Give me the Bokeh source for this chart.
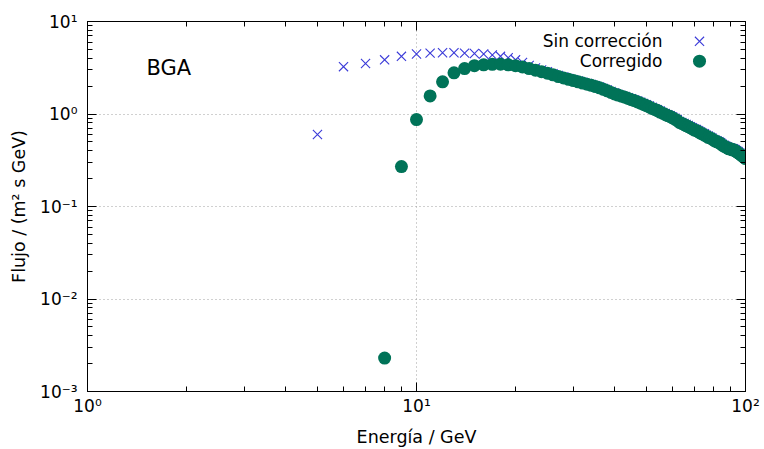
import math
from bokeh.plotting import figure
from bokeh.models import FixedTicker, LogAxis, Label
from bokeh.embed import file_html
from bokeh.resources import INLINE

# ---------------- data ----------------
energia_sin = [5, 6, 7, 8, 9, 10, 11, 12, 13, 14, 15, 16, 17, 18, 19, 20,
               21, 22, 23, 24, 25, 26, 27, 28, 29, 30, 31, 32, 33, 34, 35, 36,
               37, 38, 39, 40, 41, 42, 43, 44, 45, 46, 47, 48, 49, 50, 51, 52,
               53, 54, 55, 56, 57, 58, 59, 60, 61, 62, 63, 64, 65, 66, 67, 68,
               69, 70, 71, 72, 73, 74, 75, 76, 77, 78, 79, 80, 81, 82, 83, 84,
               85, 86, 87, 88, 89, 90, 91, 92, 93, 94, 95, 96, 97, 98, 99, 100]
flujo_sin = [0.60, 3.25, 3.52, 3.85, 4.20, 4.45, 4.55, 4.60, 4.60, 4.55, 4.50, 4.45,
             4.35, 4.20, 4.05, 3.85, 3.60, 3.35, 3.15, 3.00, 2.86, 2.73, 2.61, 2.51,
             2.42, 2.35, 2.27, 2.20, 2.14, 2.08, 2.02, 1.96, 1.89, 1.82, 1.75, 1.69,
             1.63, 1.59, 1.55, 1.50, 1.46, 1.42, 1.38, 1.34, 1.30, 1.26, 1.22, 1.18,
             1.14, 1.11, 1.08, 1.04, 1.01, 0.98, 0.96, 0.93, 0.90, 0.87, 0.83, 0.81,
             0.79, 0.77, 0.75, 0.73, 0.71, 0.69, 0.68, 0.66, 0.64, 0.62, 0.61, 0.59,
             0.58, 0.56, 0.55, 0.53, 0.52, 0.51, 0.50, 0.49, 0.47, 0.46, 0.45, 0.44,
             0.43, 0.43, 0.42, 0.42, 0.41, 0.40, 0.39, 0.38, 0.37, 0.36, 0.35, 0.34]

energia_corr = [8, 9, 10, 11, 12, 13, 14, 15, 16, 17, 18, 19, 20,
                21, 22, 23, 24, 25, 26, 27, 28, 29, 30, 31, 32, 33, 34, 35, 36,
                37, 38, 39, 40, 41, 42, 43, 44, 45, 46, 47, 48, 49, 50, 51, 52,
                53, 54, 55, 56, 57, 58, 59, 60, 61, 62, 63, 64, 65, 66, 67, 68,
                69, 70, 71, 72, 73, 74, 75, 76, 77, 78, 79, 80, 81, 82, 83, 84,
                85, 86, 87, 88, 89, 90, 91, 92, 93, 94, 95, 96, 97, 98, 99, 100]
flujo_corr = [0.0023, 0.27, 0.87, 1.57, 2.23, 2.79, 3.10, 3.33, 3.40, 3.44, 3.45, 3.40,
              3.33, 3.22, 3.10, 2.98, 2.87, 2.76, 2.65, 2.54, 2.45, 2.37, 2.30, 2.23,
              2.16, 2.10, 2.04, 1.98, 1.92, 1.85, 1.78, 1.71, 1.65, 1.60, 1.56, 1.52,
              1.47, 1.43, 1.39, 1.35, 1.31, 1.27, 1.23, 1.19, 1.15, 1.12, 1.09, 1.05,
              1.02, 0.99, 0.96, 0.94, 0.91, 0.88, 0.85, 0.81, 0.79, 0.77, 0.75, 0.73,
              0.71, 0.69, 0.67, 0.66, 0.64, 0.62, 0.61, 0.59, 0.58, 0.56, 0.55, 0.54,
              0.52, 0.51, 0.50, 0.49, 0.48, 0.46, 0.45, 0.44, 0.43, 0.42, 0.42, 0.41,
              0.41, 0.40, 0.39, 0.38, 0.37, 0.36, 0.35, 0.34, 0.33]

x_major = [1, 10, 100]
x_major_labels = ["10\u2070", "10\u00b9", "10\u00b2"]
y_major = [0.001, 0.01, 0.1, 1, 10]
y_major_labels = ["10\u207b\u00b3", "10\u207b\u00b2", "10\u207b\u00b9", "10\u2070", "10\u00b9"]
x_minor = [m * d for d in (1, 10) for m in range(2, 10)]
y_minor = [m * d for d in (0.001, 0.01, 0.1, 1) for m in range(2, 10)]

serie_sin = "Sin corrección"
serie_corr = "Corregido"
etiqueta = "BGA"

COL_SIN = "#3a3ad8"
COL_CORR = "#007358"
FONT = "DejaVu Sans"

W, H = 764, 449
L, R, T, B = 87, 19, 21, 55
X0, X1 = 1.0, 100.0
Y0, Y1 = 0.001, 10.0

p = figure(width=W, height=H, x_axis_type="log", y_axis_type="log",
           x_range=(X0, X1), y_range=(Y0, Y1),
           output_backend="svg", toolbar_location=None,
           min_border_left=L, min_border_right=R, min_border_top=T, min_border_bottom=B)
p.background_fill_color = "white"
p.border_fill_color = "white"
p.outline_line_color = "black"
p.outline_line_width = 1


def style_axis(ax, ticks, minor, labels, show_labels):
    ax.ticker = FixedTicker(ticks=ticks, minor_ticks=minor)
    ax.major_label_overrides = {t: l for t, l in zip(ticks, labels)}
    ax.axis_line_color = "black"
    ax.major_tick_line_color = "black"
    ax.minor_tick_line_color = "black"
    ax.major_tick_in = 9
    ax.major_tick_out = 0
    ax.minor_tick_in = 5
    ax.minor_tick_out = 0
    ax.major_label_text_font = FONT
    ax.major_label_text_font_size = "17px" if show_labels else "0px"
    ax.major_label_text_color = "black"
    if not show_labels:
        ax.major_label_standoff = 0


style_axis(p.xaxis[0], x_major, x_minor, x_major_labels, True)
style_axis(p.yaxis[0], y_major, y_minor, y_major_labels, True)
p.xaxis[0].major_label_standoff = 4
p.yaxis[0].major_label_standoff = 10

p.xaxis[0].axis_label = "Energía / GeV"
p.yaxis[0].axis_label = "Flujo / (m\u00b2 s GeV)"
for ax in (p.xaxis[0], p.yaxis[0]):
    ax.axis_label_text_font = FONT
    ax.axis_label_text_font_size = "17.5px"
    ax.axis_label_text_font_style = "normal"
    ax.axis_label_text_color = "black"
p.xaxis[0].axis_label_standoff = 8
p.yaxis[0].axis_label_standoff = 8

ax_top = LogAxis()
style_axis(ax_top, x_major, x_minor, ["", "", ""], False)
p.add_layout(ax_top, "above")
ax_right = LogAxis()
style_axis(ax_right, y_major, y_minor, ["", "", "", "", ""], False)
p.add_layout(ax_right, "right")

p.xgrid.ticker = FixedTicker(ticks=[10])
p.ygrid.ticker = FixedTicker(ticks=[0.01, 0.1, 1])
for g in (p.xgrid, p.ygrid):
    g.grid_line_color = "#a0a0a0"
    g.grid_line_dash = "1 3"
    g.grid_line_width = 1

# series
p.scatter(energia_sin, flujo_sin, marker="x", size=13, line_color=COL_SIN, line_width=1.1)
p.scatter(energia_corr, flujo_corr, marker="circle", size=13,
          fill_color=COL_CORR, line_color=COL_CORR, line_width=0)


# helper: frame pixel -> data coordinates (for legend / label placement)
def px2data(px, py):
    fw = W - L - R
    fh = H - T - B
    xd = 10 ** (math.log10(X0) + (px - L) / fw * (math.log10(X1) - math.log10(X0)))
    yd = 10 ** (math.log10(Y1) - (py - T) / fh * (math.log10(Y1) - math.log10(Y0)))
    return xd, yd


# legend (gnuplot style: text right aligned, sample at right)
lx, ly1 = px2data(662, 41)
_, ly2 = px2data(662, 61)
mx, _ = px2data(699, 41)
p.add_layout(Label(x=lx, y=ly1, text=serie_sin, text_align="right", text_baseline="middle",
                   text_font=FONT, text_font_size="17px", text_color="black"))
p.add_layout(Label(x=lx, y=ly2, text=serie_corr, text_align="right", text_baseline="middle",
                   text_font=FONT, text_font_size="17px", text_color="black"))
p.scatter([mx], [ly1], marker="x", size=13, line_color=COL_SIN, line_width=1.1)
p.scatter([mx], [ly2], marker="circle", size=13, fill_color=COL_CORR, line_color=COL_CORR, line_width=0)

bx, by = px2data(146, 68)
p.add_layout(Label(x=bx, y=by, text=etiqueta, text_align="left", text_baseline="middle",
                   text_font=FONT, text_font_size="21px", text_color="black"))

open("out.html", "w").write(file_html(p, INLINE))
